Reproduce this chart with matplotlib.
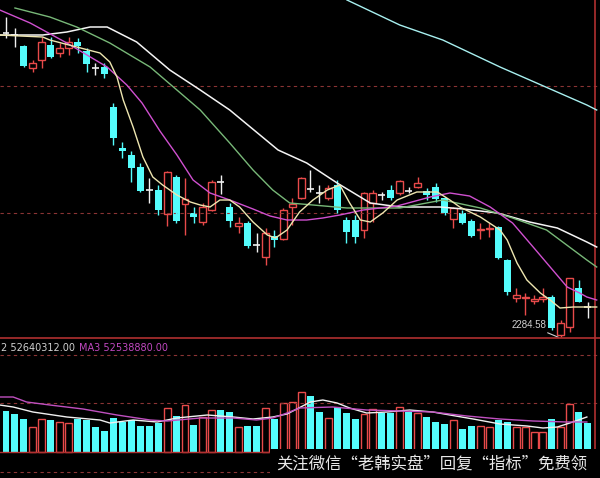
import matplotlib.pyplot as plt
import matplotlib.patches as mpatches
import numpy as np

# daily candles
opens = [2589, 2587, 2576, 2554, 2562, 2577, 2569, 2574, 2580, 2571,
         2554, 2555, 2515, 2474, 2467, 2455, 2432, 2432, 2408, 2445,
         2418, 2409, 2400, 2412, 2440, 2415, 2396, 2399, 2377, 2365,
         2386, 2383, 2415, 2424, 2433, 2429, 2424, 2437, 2402, 2402,
         2392, 2419, 2427, 2432, 2429, 2431, 2435, 2431, 2435, 2424,
         2403, 2409, 2401, 2392, 2393, 2395, 2362, 2324, 2324, 2321,
         2323, 2325, 2287, 2295, 2334, 2315]
highs = [2605, 2594, 2577, 2562, 2585, 2585, 2579, 2585, 2584, 2574,
         2559, 2559, 2519, 2480, 2471, 2459, 2444, 2437, 2451, 2447,
         2444, 2415, 2419, 2442, 2447, 2419, 2405, 2401, 2389, 2394,
         2392, 2414, 2424, 2445, 2452, 2437, 2437, 2442, 2405, 2407,
         2430, 2432, 2430, 2437, 2442, 2435, 2445, 2434, 2439, 2425,
         2415, 2412, 2403, 2399, 2399, 2396, 2363, 2334, 2329, 2327,
         2334, 2327, 2302, 2344, 2342, 2320]
lows = [2584, 2575, 2555, 2550, 2554, 2564, 2565, 2567, 2569, 2550,
        2547, 2544, 2477, 2464, 2440, 2430, 2419, 2407, 2396, 2399,
        2387, 2399, 2397, 2411, 2428, 2395, 2389, 2374, 2370, 2357,
        2375, 2382, 2397, 2423, 2430, 2419, 2422, 2409, 2379, 2379,
        2384, 2400, 2422, 2422, 2427, 2429, 2434, 2422, 2420, 2407,
        2394, 2398, 2385, 2383, 2385, 2363, 2327, 2320, 2307, 2318,
        2320, 2292, 2284.58, 2290, 2320, 2304]
closes = [2589, 2587, 2556, 2559, 2580, 2565, 2574, 2580, 2576, 2558,
          2554, 2548, 2484, 2471, 2454, 2431, 2432, 2412, 2450, 2401,
          2423, 2405, 2415, 2440, 2440, 2401, 2399, 2376, 2377, 2389,
          2382, 2412, 2418, 2444, 2433, 2429, 2434, 2412, 2390, 2385,
          2429, 2429, 2427, 2424, 2441, 2431, 2439, 2427, 2423, 2409,
          2414, 2399, 2386, 2393, 2394, 2364, 2330, 2327, 2325, 2323,
          2325, 2294, 2299, 2344, 2320, 2315]
volumes = [61.5, 57, 49.5, 37.5, 49.5, 48, 45, 43.5, 49.5, 48,
           37.5, 31.5, 51, 45, 48, 39, 39, 43.5, 66, 54,
           70.5, 40.5, 52.5, 63, 63, 60, 37.5, 39, 39, 66,
           49.5, 73.5, 75, 90, 84, 60, 51, 67.5, 58.5, 49.5,
           57, 64.5, 58.5, 58.5, 67.5, 60, 58.5, 52.5, 45, 42,
           48, 34.5, 39, 39, 37.5, 48, 45, 37.5, 37.5, 30,
           30, 49.5, 37.5, 72, 60, 43.5]

# moving average lines (day index, value)
ma5_idx = [-0.7, 1.6, 4.1, 4.9, 7.9, 10.5, 11.6, 12.4, 13.1, 14.2, 15.3, 16.4,
           17.5, 19.1, 20.6, 21.7, 22.8, 23.9, 25.0, 26.1, 27.6, 29.2, 30.1,
           31.4, 32.8, 34.3, 35.9, 37.3, 38.4, 39.6, 40.7, 42.1, 43.7, 45.9,
           48.2, 49.6, 50.7, 53.0, 55.2, 56.0, 57.1, 58.2, 59.7, 60.8, 61.9,
           63.4, 64.9, 66.0]
ma5_val = [2587, 2586, 2585, 2582, 2575, 2569, 2560, 2545, 2522, 2495, 2465, 2445,
           2437, 2427, 2420, 2417, 2415, 2422, 2422, 2415, 2400, 2387, 2384,
           2392, 2410, 2422, 2432, 2437, 2419, 2402, 2400, 2409, 2422, 2430,
           2430, 2422, 2415, 2405, 2392, 2382, 2359, 2342, 2329, 2322, 2314,
           2315, 2315, 2315]
ma10_idx = [-0.7, 2.7, 6.8, 11.3, 13.5, 15.2, 17.2, 19.1, 20.9, 22.8, 25.0, 27.6,
            29.5, 31.4, 33.6, 35.4, 37.3, 39.9, 43.7, 47.4, 49.6, 51.8, 54.1,
            56.6, 58.9, 60.8, 62.7, 64.1, 64.9, 66.0]
ma10_val = [2612, 2599, 2579, 2555, 2537, 2519, 2491, 2467, 2442, 2429, 2422, 2413,
            2406, 2402, 2402, 2404, 2407, 2412, 2416, 2425, 2429, 2426, 2415,
            2399, 2375, 2355, 2335, 2329, 2325, 2322]
ma20_idx = [1.0, 4.9, 7.9, 11.6, 16.1, 21.7, 25.0, 27.6, 29.8, 31.7, 34.3, 38.1,
            44.0, 48.8, 53.0, 56.6, 60.4, 64.9, 66.0]
ma20_val = [2614, 2605, 2595, 2579, 2555, 2512, 2479, 2452, 2432, 2419, 2417, 2414,
            2414, 2422, 2414, 2404, 2392, 2362, 2355]
ma30_idx = [-0.7, 4.1, 6.8, 9.4, 11.3, 14.6, 18.3, 21.7, 25.0, 30.4, 33.6, 37.0,
            40.7, 44.0, 48.5, 51.1, 54.9, 58.5, 61.6, 64.9, 66.0]
ma30_val = [2587, 2587, 2590, 2595, 2595, 2580, 2552, 2532, 2512, 2472, 2459, 2439,
            2419, 2415, 2415, 2413, 2409, 2400, 2394, 2380, 2375]
ma60_idx = [38.1, 44.0, 48.8, 55.2, 64.9, 66.0]
ma60_val = [2622, 2597, 2582, 2555, 2517, 2512]

vma1_idx = [-0.7, 0.8, 3.0, 6.8, 10.5, 11.6, 14.2, 16.9, 19.1, 20.2, 22.5, 25.4,
            27.6, 29.8, 31.4, 32.5, 34.0, 35.4, 37.0, 38.4, 40.3, 42.6, 45.1,
            47.7, 49.6, 52.2, 55.2, 58.2, 60.0, 61.6, 63.0, 64.9]
vma1_val = [70.5, 67.5, 60, 52.5, 48, 43.5, 48, 45, 51, 52.5, 55.5, 52.5,
            49.5, 52.5, 57, 64.5, 75, 78, 73.5, 66, 58.5, 60, 63,
            60, 55.5, 49.5, 42, 39, 36, 37.5, 43.5, 52.5]
vma2_idx = [-0.7, 0.8, 2.3, 4.9, 8.6, 12.4, 16.1, 18.0, 21.7, 25.4, 28.0, 29.8,
            31.4, 32.8, 36.5, 40.3, 44.0, 47.7, 51.5, 55.2, 58.9, 62.7, 64.9]
vma2_val = [82.5, 82.5, 75, 70.5, 64.5, 55.5, 48, 46.5, 51, 51, 48, 51,
            58.5, 66, 67.5, 63, 61.5, 60, 54, 49.5, 46.5, 45, 45]

UP = '#e84a4a'
DOWN = '#54fcfc'
FLAT = '#f0f0f0'
GRID = '#8a3434'

fig = plt.figure(figsize=(6, 4.78), dpi=100, facecolor='black')
ax = fig.add_axes([0, 140 / 478, 1, 338 / 478])
axv = fig.add_axes([0, 0, 1, 140 / 478])
for a in (ax, axv):
    a.set_facecolor('black')
    a.set_xlim(-0.67, 66.37)
    a.set_xticks([])
    a.set_yticks([])
    for s in a.spines.values():
        s.set_visible(False)
ax.set_ylim(2284, 2622)
axv.set_ylim(-39, 171)
axv.spines['top'].set_visible(True)
axv.spines['top'].set_color('#b03030')
axv.spines['top'].set_linewidth(1.2)

x = np.arange(len(opens))
o = np.array(opens, float)
h = np.array(highs, float)
l = np.array(lows, float)
c = np.array(closes, float)
v = np.array(volumes, float)
top = np.maximum(o, c)
bot = np.minimum(o, c)
up = c > o
dn = c < o
fl = c == o

# grid lines
for y in (2536, 2409):
    ax.axhline(y, color=GRID, lw=0.8, ls=(0, (3, 3)))
for y in (145.5, 73.5, -30):
    axv.axhline(y, color=GRID, lw=0.8, ls=(0, (3, 3)))
ax.axvline(65.8, color='#b03030', lw=1.2)
axv.axvline(65.8, color='#b03030', lw=1.2)

# candles
w = 0.78
ax.vlines(x[dn], l[dn], h[dn], color=DOWN, lw=1)
ax.bar(x[dn], (top - bot)[dn], bottom=bot[dn], width=w, color=DOWN, lw=0)
ax.vlines(x[up], top[up], h[up], color=UP, lw=1)
ax.vlines(x[up], l[up], bot[up], color=UP, lw=1)
ax.bar(x[up], (top - bot)[up], bottom=bot[up], width=w,
       facecolor='black', edgecolor=UP, lw=1)
ax.vlines(x[fl], l[fl], h[fl], color=FLAT, lw=1)
ax.hlines(c[fl], x[fl] - w / 2, x[fl] + w / 2, color=FLAT, lw=1.2)

# moving averages
ax.plot(ma60_idx, ma60_val, color='#a8f0f0', lw=1)
ax.plot(ma30_idx, ma30_val, color='#f4f4f4', lw=1.1)
ax.plot(ma20_idx, ma20_val, color='#78b878', lw=1)
ax.plot(ma10_idx, ma10_val, color='#d050d0', lw=1)
ax.plot(ma5_idx, ma5_val, color='#eee6b0', lw=1)

ax.annotate('2284.58', xy=(61.7, 2284.8), xytext=(56.5, 2297),
            ha='left', va='center', color='#d0d0d0', fontsize=7,
            family='Liberation Sans',
            arrowprops=dict(arrowstyle='-', color='#d0d0d0', lw=0.8,
                            shrinkA=0, shrinkB=0))

# volume
axv.bar(x[~up], v[~up], width=w, color=DOWN, lw=0)
axv.bar(x[up], v[up], width=w, facecolor='black', edgecolor=UP, lw=1)
axv.axhline(0, color='#b03030', lw=1)
axv.plot(vma1_idx, vma1_val, color='#f0f0f0', lw=1)
axv.plot(vma2_idx, vma2_val, color='#c050c0', lw=1)

fig.text(1 / 600, 130 / 478, '2 52640312.00', color='#d0d0d0',
         fontsize=7, va='center', ha='left')
fig.text(79 / 600, 130 / 478, 'MA3 52538880.00', color='#c048c0',
         fontsize=7, va='center', ha='left')

# watermark strip
fig.patches.append(mpatches.Rectangle((270 / 600, 0), 330 / 600, 29 / 478,
                                      transform=fig.transFigure,
                                      facecolor='black', edgecolor='none',
                                      zorder=5))
fig.text(432 / 600, 14 / 478, '关注微信“老韩实盘”回复“指标”免费领',
         color='#e8e8e8', fontsize=11.8, ha='center', va='center',
         family=['Noto Sans CJK SC', 'DejaVu Sans'], zorder=6)

fig.savefig('out.png', dpi=100, facecolor='black')
